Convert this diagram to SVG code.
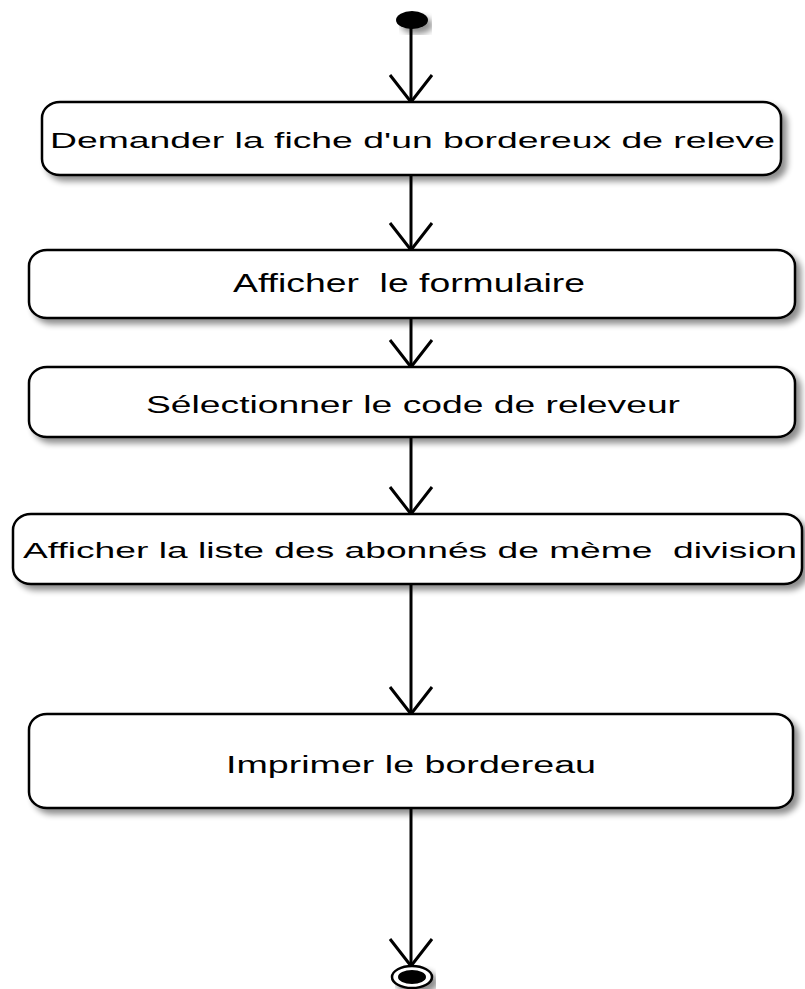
<svg xmlns="http://www.w3.org/2000/svg" width="805" height="989" viewBox="0 0 805 989">
  <defs>
    <filter id="shadow" x="-5%" y="-20%" width="115%" height="150%">
      <feGaussianBlur in="SourceAlpha" stdDeviation="3"/>
      <feOffset dx="5" dy="5" result="b"/>
      <feComponentTransfer><feFuncA type="linear" slope="0.45"/></feComponentTransfer>
      <feMerge><feMergeNode/><feMergeNode in="SourceGraphic"/></feMerge>
    </filter>
    <marker id="open" markerUnits="userSpaceOnUse" markerWidth="40" markerHeight="50" refX="0" refY="0" viewBox="-30 -25 32 50" orient="auto" overflow="visible">
      <path d="M-27,-21 L0,0 L-27,21" fill="none" stroke="#000" stroke-width="3"/>
    </marker>
  </defs>
  <style>
    .act { fill: #fff; stroke: #000; stroke-width: 2.5; filter: url(#shadow); }
    .lbl { font-family: "Liberation Sans", Arial, sans-serif; fill: #000; text-anchor: start; }
    .flow { stroke: #000; stroke-width: 3; fill: none; marker-end: url(#open); }
  </style>
  <rect width="805" height="989" fill="#fff"/>

  <g id="start">
    <ellipse cx="412" cy="20" rx="16" ry="9" fill="#000" filter="url(#shadow)"/>
  </g>

  <g id="connectors">
    <line class="flow" x1="411" y1="28" x2="411" y2="102"/>
    <line class="flow" x1="411" y1="175" x2="411" y2="250"/>
    <line class="flow" x1="411" y1="318" x2="411" y2="367"/>
    <line class="flow" x1="411" y1="437" x2="411" y2="514"/>
    <line class="flow" x1="411" y1="584" x2="411" y2="714"/>
    <line class="flow" x1="411" y1="808" x2="411" y2="966"/>
  </g>

  <g id="demander">
    <rect class="act" x="42" y="102" width="739" height="73" rx="18" ry="16"/>
    <text class="lbl" x="50" y="148" font-size="22" textLength="725" lengthAdjust="spacingAndGlyphs">Demander la fiche d'un bordereux de releve</text>
  </g>

  <g id="afficher-formulaire">
    <rect class="act" x="29" y="250" width="766" height="68" rx="18" ry="16"/>
    <text class="lbl" x="233" y="292" font-size="25" textLength="352" lengthAdjust="spacingAndGlyphs" xml:space="preserve">Afficher  le formulaire</text>
  </g>

  <g id="selectionner">
    <rect class="act" x="29" y="367" width="766" height="70" rx="18" ry="16"/>
    <text class="lbl" x="146" y="413" font-size="23" textLength="534" lengthAdjust="spacingAndGlyphs">Sélectionner le code de releveur</text>
  </g>

  <g id="afficher-liste">
    <rect class="act" x="13" y="514" width="789" height="70" rx="18" ry="16"/>
    <text class="lbl" x="23" y="558" font-size="22" textLength="774" lengthAdjust="spacingAndGlyphs" xml:space="preserve">Afficher la liste des abonnés de mème  division</text>
  </g>

  <g id="imprimer">
    <rect class="act" x="29" y="714" width="764" height="94" rx="18" ry="16"/>
    <text class="lbl" x="226" y="773" font-size="23" textLength="370" lengthAdjust="spacingAndGlyphs">Imprimer le bordereau</text>
  </g>

  <g id="end">
    <ellipse cx="412" cy="977" rx="20" ry="11" fill="#fff" stroke="#000" stroke-width="2.5" filter="url(#shadow)"/>
    <ellipse cx="412" cy="977" rx="14" ry="7" fill="#000"/>
  </g>
</svg>
